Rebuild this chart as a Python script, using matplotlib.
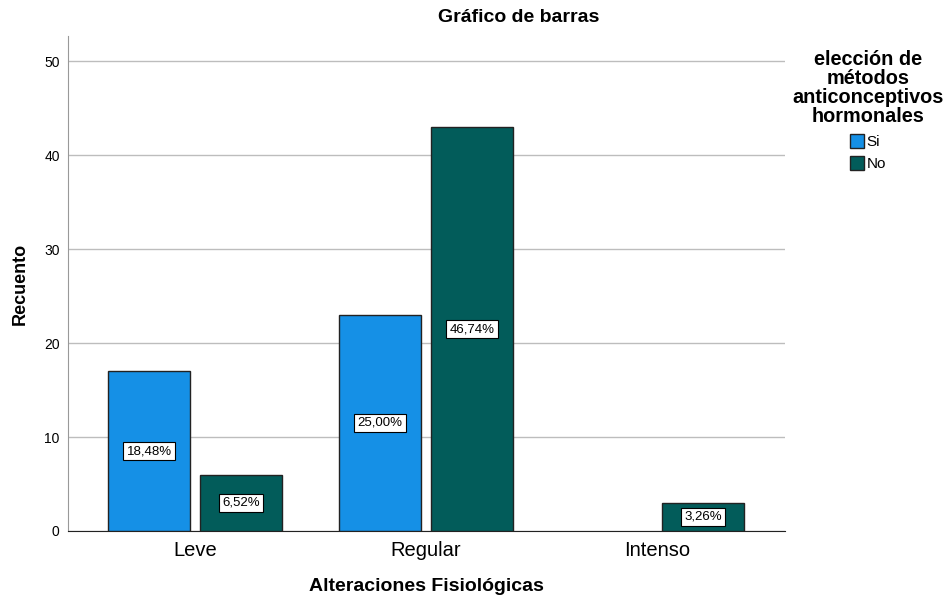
import matplotlib.pyplot as plt
import numpy as np
from matplotlib.patches import Patch

categorias = ['Leve', 'Regular', 'Intenso']
si = [17, 23, 0]
no = [6, 43, 3]
pct_si = ['18,48%', '25,00%', '']
pct_no = ['6,52%', '46,74%', '3,26%']

plt.rcParams['font.family'] = ['Liberation Sans', 'DejaVu Sans']

fig = plt.figure(figsize=(9.5, 6.06), dpi=100)
ax = fig.add_axes([0.0716, 0.1238, 0.7548, 0.8168])

x = np.arange(len(categorias))
w = 0.355
off = 0.199
c_si = '#1590e6'
c_no = '#025c5a'

b1 = ax.bar(x - off, si, w, color=c_si, edgecolor='#222222', linewidth=1, zorder=3)
b2 = ax.bar(x + off, no, w, color=c_no, edgecolor='#222222', linewidth=1, zorder=3)
# bars with zero count are not drawn
for b, v in zip(list(b1) + list(b2), si + no):
    if v == 0:
        b.set_visible(False)

box = dict(boxstyle='square,pad=0.25', facecolor='white', edgecolor='black', linewidth=0.8)
for xi, v, t in zip(x - off, si, pct_si):
    if t:
        ax.text(xi, v / 2, t, ha='center', va='center', fontsize=9.5, bbox=box, zorder=4)
for xi, v, t in zip(x + off, no, pct_no):
    if t:
        ax.text(xi, v / 2, t, ha='center', va='center', fontsize=9.5, bbox=box, zorder=4)

ax.set_xlim(-0.55, 2.554)
ax.set_ylim(0, 52.7)
ax.set_yticks([0, 10, 20, 30, 40, 50])
ax.set_xticks(x)
ax.set_xticklabels(categorias, fontsize=14.5)
ax.tick_params(axis='y', labelsize=10, length=0, pad=6)
ax.tick_params(axis='x', length=0, pad=7)
ax.grid(axis='y', color='#bdbdbd', linewidth=1, zorder=0)
ax.spines['top'].set_visible(False)
ax.spines['right'].set_visible(False)
ax.spines['left'].set_color('#999999')
ax.spines['bottom'].set_color('#222222')

ax.set_xlabel('Alteraciones Fisiológicas', fontsize=14, fontweight='bold', labelpad=13)
ax.set_ylabel('Recuento', fontsize=13, fontweight='bold', labelpad=11)
fig.text(519 / 950, 1 - 18 / 606, 'Gráfico de barras', ha='center', va='center',
         fontsize=14, fontweight='bold')

handles = [Patch(facecolor=c_si, edgecolor='#222222', label='Si'),
           Patch(facecolor=c_no, edgecolor='#222222', label='No')]
leg = fig.legend(handles=handles, loc='upper center', bbox_to_anchor=(868 / 950, 1 - 42 / 606),
                 title='elección de\nmétodos\nanticonceptivos\nhormonales', frameon=False,
                 fontsize=11, handlelength=0.9, handleheight=1.0, handletextpad=0.2,
                 labelspacing=0.45, borderpad=0)
leg.get_title().set_fontweight('bold')
leg.get_title().set_fontsize(14.3)
leg.get_title().set_multialignment('center')
leg.get_title().set_linespacing(1.0)
leg._legend_box.sep = 6

fig.savefig('out.png', dpi=100)
